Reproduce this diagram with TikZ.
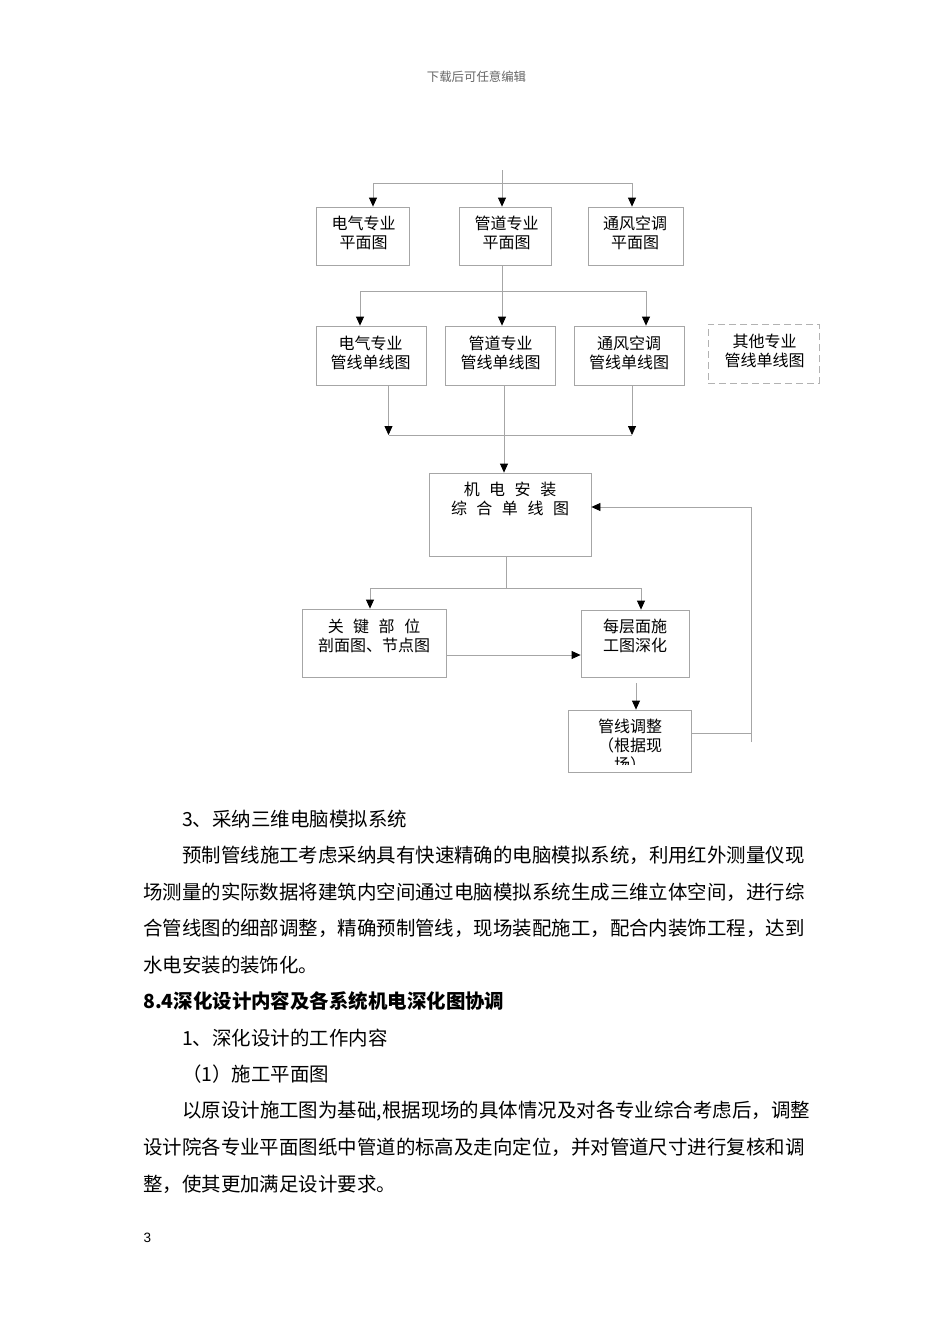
\documentclass[tikz,border=0pt]{standalone}
\usepackage{fontspec}
\newfontfamily\cjk{Noto Sans CJK SC}
\newfontfamily\arial{Liberation Sans}
\usetikzlibrary{arrows.meta,positioning}
\newcommand{\kong}{\hspace{9.5pt}}
\tikzset{
  kuang/.style={draw=gray!70, line width=0.8pt, inner sep=0pt},
  wenzi/.style={align=center, inner sep=0pt, font=\cjk\fontsize{16}{19}\selectfont},
  xian/.style={draw=gray!70, line width=0.8pt},
  jian/.style={xian, -{Triangle[length=9pt,width=8pt,color=black]}},
  duan/.style={anchor=west, inner sep=0pt, font=\cjk\fontsize{19.45}{23}\selectfont}
}
\begin{document}
\begin{tikzpicture}[x=1pt,y=-1pt]
\fill[white] (0,0) rectangle (950,1344);
\useasboundingbox (0,0) rectangle (950,1344);

% page header
\node[inner sep=0pt, text=gray!80!black, font=\cjk\fontsize{12.4}{14}\selectfont] (yemei) at (476.5,77) {下载后可任意编辑};

% boxes
\node[kuang, minimum width=93pt, minimum height=58pt] (pm1) at (362.5,236) {};
\node[kuang, minimum width=92pt, minimum height=58pt] (pm2) at (505,236) {};
\node[kuang, minimum width=95pt, minimum height=58pt] (pm3) at (635.5,236) {};
\node[kuang, minimum width=110pt, minimum height=59pt] (dx1) at (371,355.5) {};
\node[kuang, minimum width=110pt, minimum height=59pt] (dx2) at (500,355.5) {};
\node[kuang, minimum width=110pt, minimum height=59pt] (dx3) at (629,355.5) {};
\node[kuang, draw=gray!60, dash pattern=on 7pt off 4pt, minimum width=111pt, minimum height=59pt] (dx4) at (763.5,353.5) {};
\node[kuang, minimum width=162pt, minimum height=83pt] (zh) at (510,514.5) {};
\node[kuang, minimum width=144pt, minimum height=68pt] (gj) at (374,643) {};
\node[kuang, minimum width=108pt, minimum height=67pt] (mc) at (635,643.5) {};
\node[kuang, minimum width=123pt, minimum height=62pt] (tz) at (629.5,741) {};

% box texts
\node[wenzi] (pm1t) at (363.5,232.5) {电气专业\\平面图};
\node[wenzi] (pm2t) at (506.5,232.5) {管道专业\\平面图};
\node[wenzi] (pm3t) at (635,232.5) {通风空调\\平面图};
\node[wenzi] (dx1t) at (370.5,353) {电气专业\\管线单线图};
\node[wenzi] (dx2t) at (500.5,353) {管道专业\\管线单线图};
\node[wenzi] (dx3t) at (629,353) {通风空调\\管线单线图};
\node[wenzi] (dx4t) at (764.5,350.5) {其他专业\\管线单线图};
\node[wenzi] (zht) at (510,499) {机\kong 电\kong 安\kong 装\\综\kong 合\kong 单\kong 线\kong 图};
\node[wenzi] (gjt) at (374,635.5) {关\kong 键\kong 部\kong 位\\剖面图、节点图};
\node[wenzi] (mct) at (635,636) {每层面施\\工图深化};
\begin{scope}
  \clip ([yshift=8pt]tz.south west) rectangle (tz.north east);
  \node[wenzi] (tzt) at (630,746) {管线调整\\（根据现\\场）};
\end{scope}

% connectors
\coordinate (ding) at (502,170);
\coordinate (bus1L) at (373,183);  \coordinate (bus1R) at (632,183);
\draw[xian] (bus1L) -- (bus1R);
\draw[jian] (ding) -- (ding |- pm2.north);
\draw[jian] (bus1L) -- (bus1L |- pm1.north);
\draw[jian] (bus1R) -- (bus1R |- pm3.north);

\coordinate (bus2M) at (502,291);
\coordinate (bus2L) at (360,291);  \coordinate (bus2R) at (646,291);
\draw[xian] (pm2.south -| bus2M) -- (bus2M);
\draw[xian] (bus2L) -- (bus2R);
\draw[jian] (bus2L) -- (bus2L |- dx1.north);
\draw[jian] (bus2M) -- (bus2M |- dx2.north);
\draw[jian] (bus2R) -- (bus2R |- dx3.north);

\coordinate (bus3L) at (388.5,435);  \coordinate (bus3R) at (632,435);
\coordinate (bus3M) at (504,435);
\draw[xian] (bus3L) -- (bus3R);
\draw[jian] (dx1.south -| bus3L) -- (bus3L);
\draw[jian] (dx3.south -| bus3R) -- (bus3R);
\draw[jian] (dx2.south -| bus3M) -- (bus3M |- zh.north);

\coordinate (bus4M) at (506,588);
\coordinate (bus4L) at (370,588);  \coordinate (bus4R) at (641,588);
\draw[xian] (zh.south -| bus4M) -- (bus4M);
\draw[xian] (bus4L) -- (bus4R);
\draw[jian] (bus4L) -- (bus4L |- gj.north);
\draw[jian] (bus4R) -- (bus4R |- mc.north);

\coordinate (heng) at (0,655);
\draw[jian] (gj.east |- heng) -- (mc.west |- heng);
\coordinate (xia) at (636,683);
\draw[jian] (xia) -- (xia |- tz.north);

% feedback to zh
\coordinate (fbA) at (751,733);  \coordinate (fbB) at (751,507);  \coordinate (fbC) at (751,742);
\draw[xian] (tz.east |- fbA) -- (fbA);
\draw[jian] (fbC) -- (fbB) -- (zh.east |- fbB);

% body text
\node[duan] (h1) at (182,819) {3、采纳三维电脑模拟系统};
\node[duan] (l1) at (182,855.5) {预制管线施工考虑采纳具有快速精确的电脑模拟系统，利用红外测量仪现};
\node[duan] (l2) at (143,892) {场测量的实际数据将建筑内空间通过电脑模拟系统生成三维立体空间，进行综};
\node[duan] (l3) at (143,928.5) {合管线图的细部调整，精确预制管线，现场装配施工，配合内装饰工程，达到};
\node[duan] (l4) at (143,965) {水电安装的装饰化。};
\node[duan, font=\cjk\bfseries\fontsize{19.45}{23}\selectfont] (h2) at (143,1001.5) {8.4深化设计内容及各系统机电深化图协调};
\node[duan] (h3) at (182,1038) {1、深化设计的工作内容};
\node[duan] (h4) at (182,1074.5) {（1）施工平面图};
\node[duan] (l5) at (182,1111) {以原设计施工图为基础,根据现场的具体情况及对各专业综合考虑后，调整};
\node[duan] (l6) at (143,1147.5) {设计院各专业平面图纸中管道的标高及走向定位，并对管道尺寸进行复核和调};
\node[duan] (l7) at (143,1184) {整，使其更加满足设计要求。};

% page number
\node[inner sep=0pt, font=\arial\fontsize{13.5}{15}\selectfont] (yema) at (147.5,1238) {3};
\end{tikzpicture}
\end{document}
